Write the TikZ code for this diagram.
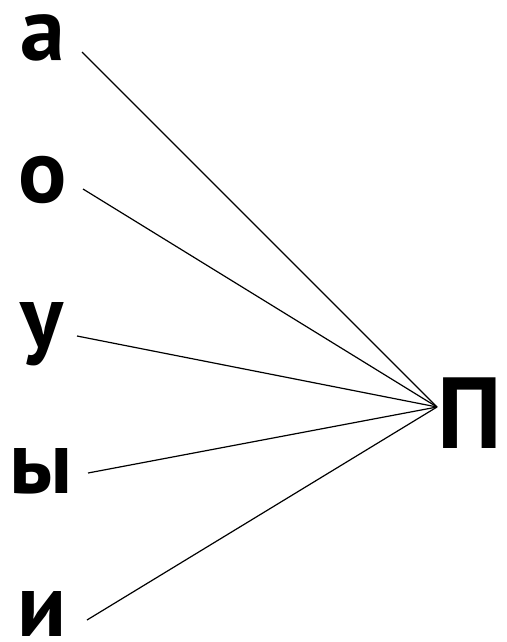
\documentclass[tikz,border=0pt]{standalone}
\usepackage{fontspec}
\newfontfamily\letterfont{PT Sans}
\usepackage{tikz}
\usetikzlibrary{positioning, calc}
\tikzset{
	letter/.style={anchor=base, inner sep=0pt, text height=45pt, text depth=0pt, font=\fontsize{90}{90}\letterfont\bfseries},
	bigletter/.style={anchor=base, inner sep=0pt, text height=71pt, text depth=0pt, font=\fontsize{101}{101}\letterfont\bfseries},
	link/.style={line width=1.2pt, black},
}
\begin{document}
\begin{tikzpicture}[x=1pt, y=-1pt]
	\useasboundingbox (0,0) rectangle (506,642);
	% vowels on the left
	\node[letter] (a) at (43,60) {а};
	\node[letter] (o) at (43,202) {о};
	\node[letter, text depth=20pt] (u) at (42,347) {у};
	\node[letter] (y) at (41,493) {ы};
	\node[letter] (i) at (42,636) {и};
	% consonant on the right
	\node[bigletter] (p) at (470,448) {П};
	\coordinate (hub) at (437,407);
	\coordinate (a-end) at (82,52);
	\coordinate (o-end) at (83,189);
	\coordinate (u-end) at (77,336);
	\coordinate (y-end) at (88,473);
	\coordinate (i-end) at (87,620);
	\draw[link] (a-end) -- (hub);
	\draw[link] (o-end) -- (hub);
	\draw[link] (u-end) -- (hub);
	\draw[link] (y-end) -- (hub);
	\draw[link] (i-end) -- (hub);
\end{tikzpicture}
\end{document}
